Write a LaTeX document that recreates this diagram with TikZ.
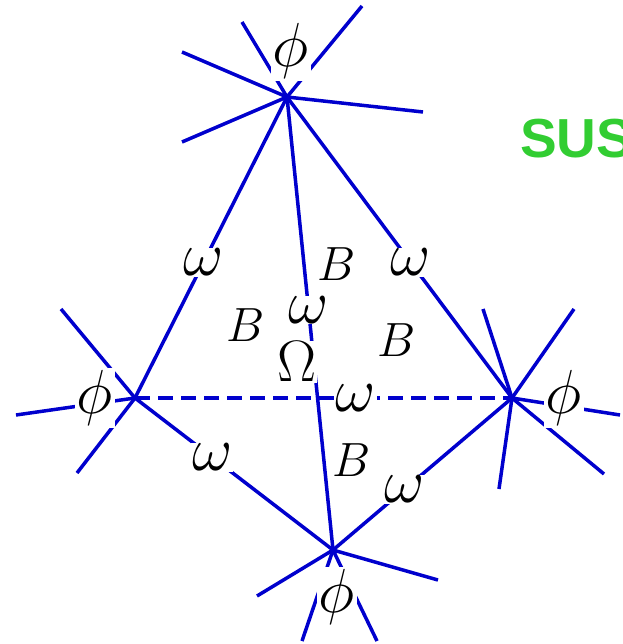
\documentclass[tikz,border=0pt]{standalone}
\usepackage{fontspec}
\newfontfamily\susfont{Liberation Sans}
\definecolor{feynblue}{RGB}{0,0,205}
\definecolor{susgreen}{RGB}{50,205,50}
\tikzset{
  prop/.style={feynblue,line width=3.5pt},
  leg/.style={feynblue,line width=3.5pt},
  lab/.style={fill=white,text=black,inner sep=0.4pt,font=\Huge,scale=2.5},
  fld/.style={fill=white,text=black,inner sep=0.8pt,font=\Huge,scale=2.5},
  blab/.style={inner sep=0pt,font=\Huge,scale=1.93}
}
\begin{document}
\begin{tikzpicture}[x=1pt,y=-1pt]
  \useasboundingbox (0,0) rectangle (622,644);
  \coordinate (t) at (287,97);
  \coordinate (l) at (135,398);
  \coordinate (r) at (512,398);
  \coordinate (b) at (333,550);
  \foreach \i/\p in {1/{182,52},2/{182,142},3/{242,22},4/{362,6},5/{423,112}} \coordinate (t\i) at (\p);
  \foreach \i/\p in {1/{61,309},2/{16,415},3/{77,473}} \coordinate (l\i) at (\p);
  \foreach \i/\p in {1/{483,309},2/{574,309},3/{620,415},4/{604,474},5/{499,489}} \coordinate (r\i) at (\p);
  \foreach \i/\p in {1/{257,596},2/{438,580},3/{302,641},4/{377,641}} \coordinate (b\i) at (\p);
  \foreach \i in {1,...,5} {\draw[leg] (t) -- (t\i); \draw[leg] (r) -- (r\i);}
  \foreach \i in {1,...,3} {\draw[leg] (l) -- (l\i);}
  \foreach \i in {1,...,4} {\draw[leg] (b) -- (b\i);}
  \draw[prop] (t) -- node[lab,pos=0.55] (wtl) {$\omega$} (l);
  \draw[prop] (t) -- node[lab,pos=0.55] (wtr) {$\omega$} (r);
  \draw[prop] (t) -- node[lab,pos=0.47] (wtb) {$\omega$} (b);
  \draw[prop] (l) -- node[lab,pos=0.39] (wlb) {$\omega$} (b);
  \draw[prop] (r) -- node[lab,pos=0.6] (wrb) {$\omega$} (b);
  \draw[prop,dash pattern=on 15pt off 8pt] (l) -- node[lab,pos=0.585] (wlr) {$\omega$} (r);
  \node[fld] (pt) at (291,51) {$\phi$};
  \node[fld] (pl) at (95,398) {$\phi$};
  \node[fld] (pr) at (564,398) {$\phi$};
  \node[fld] (pb) at (337,597) {$\phi$};
  \node[lab,scale=0.94] (om) at (297,362) {$\Omega$};
  \node[blab] (b1) at (337,264) {$B$};
  \node[blab] (b2) at (246,325) {$B$};
  \node[blab] (b3) at (397,340) {$B$};
  \node[blab] (b4) at (352,460) {$B$};
  \node[anchor=base west,inner sep=0pt,text=susgreen,font=\susfont\bfseries\fontsize{55}{55}\selectfont] (sus) at (520,158) {SUS};
\end{tikzpicture}
\end{document}
